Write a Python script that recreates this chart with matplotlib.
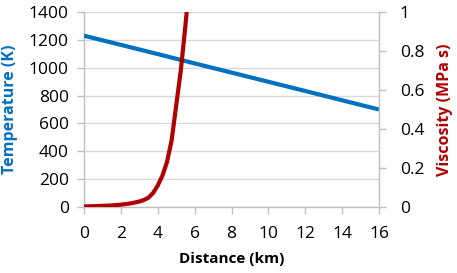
import matplotlib.pyplot as plt
from matplotlib.ticker import FuncFormatter

# --- data ---
temp_distance = [0, 2, 4, 6, 8, 10, 12, 14, 16]
temperature = [1230, 1164, 1098, 1031, 965, 899, 833, 766, 700]

visc_distance = [0, 0.5, 1, 1.5, 2, 2.5, 3, 3.25, 3.5, 3.75, 4, 4.25, 4.5,
                 4.75, 5, 5.25, 5.5, 5.6]
viscosity = [0.003, 0.004, 0.006, 0.008, 0.012, 0.018, 0.028, 0.036, 0.048,
             0.072, 0.11, 0.16, 0.23, 0.34, 0.52, 0.7, 0.93, 1.03]

x_ticks = [0, 2, 4, 6, 8, 10, 12, 14, 16]
temp_ticks = [0, 200, 400, 600, 800, 1000, 1200, 1400]
visc_ticks = [0, 0.2, 0.4, 0.6, 0.8, 1.0]

BLUE = '#0070C0'
RED = '#B00000'
GRID = '#D9D9D9'
AXIS = '#BFBFBF'

plt.rcParams['font.family'] = ['Open Sans', 'DejaVu Sans']

fig = plt.figure(figsize=(4.57, 2.73), dpi=100)
ax = fig.add_axes([84 / 457, 1 - 207 / 273, 295 / 457, 195 / 273])
ax2 = ax.twinx()

# gridlines and spines (Excel look)
ax.set_axisbelow(True)
ax.yaxis.grid(True, color=GRID, lw=1)
for side in ['top', 'right']:
    ax.spines[side].set_visible(False)
for side in ['top', 'left', 'bottom']:
    ax2.spines[side].set_visible(False)
for sp in [ax.spines['left'], ax.spines['bottom'], ax2.spines['right']]:
    sp.set_color(AXIS)
    sp.set_linewidth(1)

ax.plot(temp_distance, temperature, color=BLUE, lw=3, solid_capstyle='butt', zorder=3)
ax2.plot(visc_distance, viscosity, color=RED, lw=3, solid_capstyle='butt',
         solid_joinstyle='round', zorder=3)

ax.set_xlim(0, 16)
ax.set_ylim(0, 1400)
ax2.set_ylim(0, 1)
ax.set_xticks(x_ticks)
ax.set_yticks(temp_ticks)
ax2.set_yticks(visc_ticks)
ax2.yaxis.set_major_formatter(FuncFormatter(lambda v, p: f'{v:g}'))

for a in [ax, ax2]:
    a.tick_params(axis='both', colors=AXIS, labelcolor='black', labelsize=12.5,
                  length=5, width=1, direction='out')
ax.tick_params(axis='y', pad=6)
ax.tick_params(axis='x', pad=9)
ax2.tick_params(axis='y', pad=10)

ax.set_xlabel('Distance (km)', fontsize=11, fontweight='bold', labelpad=7)
ax.set_ylabel('Temperature (K)', fontsize=11.5, fontweight='bold', color=BLUE)
ax.yaxis.set_label_coords(-0.225, 0.5)
ax2.set_ylabel('Viscosity (MPa s)', fontsize=11.5, fontweight='bold', color=RED)
ax2.yaxis.set_label_coords(1.195, 0.5)

fig.patch.set_facecolor('white')
plt.savefig('out.png', dpi=100)
